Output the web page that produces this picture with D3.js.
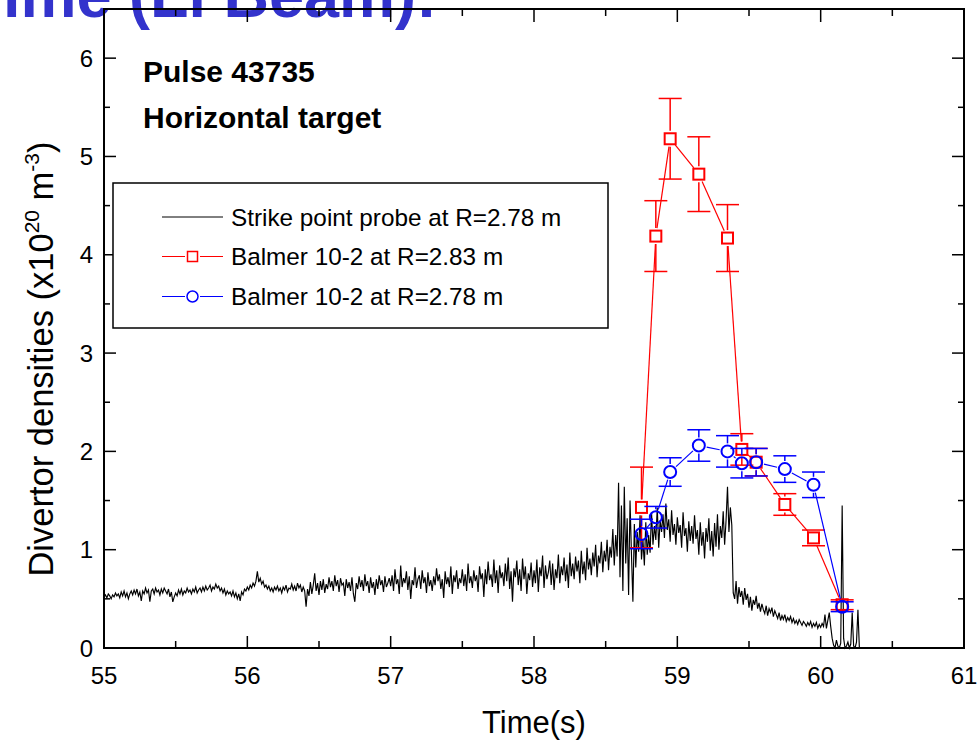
<!DOCTYPE html>
<html>
<head>
<meta charset="utf-8">
<script src="https://cdn.jsdelivr.net/npm/d3@7"></script>
<style>
  body { margin: 0; background: #fff; }
  text { font-family: "Liberation Sans", Arial, sans-serif; }
</style>
</head>
<body>
<svg id="viz"></svg>
<script>
var width = 977;
var height = 744;

// strike point probe, one sample every 0.01 s from 55.00 s
var probeStart = 55.0;
var probeStep = 0.01;
var probeValues = [
  0.52,0.54,0.51,0.55,0.53,0.50,0.54,0.52,0.56,0.53,
  0.55,0.51,0.57,0.53,0.58,0.52,0.56,0.50,0.55,0.58,
  0.54,0.59,0.55,0.60,0.53,0.57,0.48,0.58,0.55,0.61,
  0.56,0.59,0.47,0.58,0.60,0.55,0.61,0.57,0.59,0.54,
  0.60,0.56,0.61,0.58,0.55,0.60,0.52,0.57,0.47,0.52,
  0.56,0.53,0.59,0.55,0.60,0.54,0.58,0.56,0.61,0.57,
  0.59,0.55,0.60,0.57,0.62,0.56,0.59,0.61,0.57,0.62,
  0.58,0.63,0.59,0.61,0.64,0.58,0.62,0.60,0.65,0.61,
  0.63,0.58,0.61,0.56,0.60,0.54,0.58,0.55,0.57,0.53,
  0.58,0.52,0.56,0.50,0.55,0.48,0.57,0.54,0.60,0.58,
  0.62,0.59,0.64,0.61,0.66,0.63,0.68,0.78,0.67,0.71,
  0.65,0.68,0.62,0.64,0.60,0.63,0.58,0.61,0.57,0.62,
  0.59,0.63,0.58,0.61,0.56,0.62,0.59,0.64,0.57,0.61,
  0.60,0.65,0.59,0.63,0.58,0.66,0.61,0.64,0.57,0.62,
  0.58,0.42,0.60,0.53,0.67,0.55,0.64,0.76,0.58,0.66,
  0.54,0.68,0.59,0.70,0.56,0.65,0.60,0.72,0.62,0.68,
  0.58,0.74,0.63,0.69,0.57,0.71,0.64,0.66,0.53,0.70,
  0.61,0.67,0.58,0.72,0.55,0.47,0.66,0.60,0.73,0.62,
  0.69,0.58,0.75,0.63,0.68,0.56,0.72,0.61,0.67,0.54,
  0.70,0.60,0.74,0.64,0.69,0.57,0.73,0.62,0.66,0.71,
  0.63,0.74,0.58,0.80,0.65,0.70,0.55,0.84,0.62,0.71,
  0.66,0.78,0.59,0.73,0.50,0.69,0.64,0.82,0.61,0.70,
  0.74,0.60,0.79,0.66,0.72,0.56,0.77,0.63,0.69,0.58,
  0.73,0.64,0.81,0.68,0.75,0.60,0.70,0.51,0.78,0.65,
  0.72,0.62,0.83,0.55,0.74,0.67,0.79,0.60,0.71,0.66,
  0.80,0.63,0.75,0.58,0.86,0.66,0.73,0.61,0.79,0.68,
  0.74,0.57,0.83,0.70,0.76,0.52,0.80,0.65,0.88,0.69,
  0.75,0.62,0.90,0.66,0.79,0.56,0.84,0.71,0.77,0.63,
  0.86,0.68,0.92,0.60,0.78,0.47,0.81,0.72,0.89,0.64,
  0.80,0.58,0.91,0.70,0.83,0.55,0.76,0.69,0.87,0.62,
  0.79,0.66,0.90,0.57,0.82,0.73,0.94,0.61,0.84,0.70,
  0.77,0.89,0.64,0.86,0.59,0.80,0.71,0.95,0.66,0.83,
  0.74,0.92,0.68,0.85,0.61,0.97,0.73,0.86,0.70,0.93,
  0.78,0.89,0.66,0.99,0.75,0.88,0.69,1.02,0.80,0.91,
  0.74,0.97,0.83,1.05,0.72,0.94,0.86,1.08,0.77,0.99,
  0.88,1.10,0.79,1.03,0.92,1.21,0.84,1.15,0.93,1.68,
  0.72,1.45,0.58,1.64,0.86,1.32,0.54,1.50,0.95,0.47,
  1.26,0.82,1.18,0.98,1.35,0.90,1.10,0.84,1.28,0.95,
  1.15,0.97,1.38,1.05,1.24,1.10,1.43,1.02,1.30,1.18,
  1.36,1.12,1.47,1.20,1.31,1.08,1.40,1.15,1.26,1.05,
  1.33,1.17,1.25,1.02,1.38,1.14,1.22,0.98,1.29,1.09,
  1.24,1.06,1.35,1.11,1.20,0.95,1.28,1.04,1.18,0.91,
  1.22,1.08,1.32,0.99,1.19,0.93,1.27,1.03,1.36,1.00,
  1.24,1.12,1.39,1.05,1.30,1.64,1.18,1.43,1.25,0.56,
  0.50,0.68,0.45,0.62,0.52,0.58,0.44,0.61,0.49,0.55,
  0.41,0.52,0.38,0.49,0.44,0.53,0.40,0.46,0.37,0.45,
  0.39,0.35,0.43,0.33,0.40,0.36,0.41,0.32,0.38,0.34,
  0.30,0.36,0.28,0.33,0.29,0.34,0.27,0.31,0.28,0.32,
  0.26,0.30,0.25,0.28,0.24,0.29,0.26,0.23,0.27,0.25,
  0.22,0.26,0.23,0.27,0.21,0.25,0.22,0.26,0.20,0.24,
  0.21,0.25,0.22,0.34,0.20,0.28,0.36,0.22,0.10,0.03,
  0.00,0.08,0.02,0.00,0.05,1.45,0.10,0.00,0.02,0.06,
  0.00,0.04,0.36,0.02,0.00,0.06,0.39,0.00
];

// Balmer 10-2 densities
var balmerTimes = [58.75, 58.85, 58.95, 59.15, 59.35, 59.45, 59.55, 59.75, 59.95, 60.15];
var balmer283 = [1.43, 4.19, 5.18, 4.82, 4.17, 2.02, 1.89, 1.46, 1.12, 0.44];
var balmer283Err = [0.41, 0.36, 0.41, 0.38, 0.34, 0.16, 0.14, 0.11, 0.08, 0.05];
var balmer278 = [1.16, 1.33, 1.79, 2.06, 2.00, 1.88, 1.89, 1.82, 1.66, 0.42];
var balmer278Err = [0.15, 0.11, 0.145, 0.16, 0.16, 0.15, 0.14, 0.135, 0.13, 0.05];

var xTicks = [55, 56, 57, 58, 59, 60, 61];
var yTicks = [0, 1, 2, 3, 4, 5, 6];
var legendLabels = ["Strike point probe at R=2.78 m", "Balmer 10-2 at R=2.83 m", "Balmer 10-2 at R=2.78 m"];

var svg = d3.select("#viz")
    .attr("width", width)
    .attr("height", height);

var x = d3.scaleLinear().domain([55, 61]).range([104, 964]);
var y = d3.scaleLinear().domain([0, 6.5]).range([648, 9]);

// title remnant at the top (cut off by the slide)
svg.append("text")
    .attr("x", 437)
    .attr("y", 17)
    .attr("text-anchor", "end")
    .attr("font-size", 63)
    .attr("font-weight", "bold")
    .attr("fill", "#3333CC")
    .text("Time (Li Beam):");

var plot = svg.append("g");

// probe trace
var probe = probeValues.map(function (v, i) {
    return [probeStart + i * probeStep, v];
});
plot.append("path")
    .datum(probe)
    .attr("fill", "none")
    .attr("stroke", "#000")
    .attr("stroke-width", 1.15)
    .attr("d", d3.line()
        .x(function (d) { return x(d[0]); })
        .y(function (d) { return y(d[1]); }));

// series with gapped lines around markers
function drawSeries(vals, errs, color, shape) {
    var g = plot.append("g");
    var pts = balmerTimes.map(function (t, i) {
        return { px: x(t), py: y(vals[i]), v: vals[i], e: errs[i] };
    });
    var gap = 8;
    for (var i = 0; i < pts.length - 1; i++) {
        var a = pts[i], b = pts[i + 1];
        var dx = b.px - a.px, dy = b.py - a.py;
        var len = Math.sqrt(dx * dx + dy * dy);
        if (len <= 2 * gap) continue;
        g.append("line")
            .attr("x1", a.px + dx / len * gap)
            .attr("y1", a.py + dy / len * gap)
            .attr("x2", b.px - dx / len * gap)
            .attr("y2", b.py - dy / len * gap)
            .attr("stroke", color)
            .attr("stroke-width", 1.2);
    }
    pts.forEach(function (p) {
        var top = y(p.v + p.e), bot = y(p.v - p.e);
        if (top < p.py - gap) {
            g.append("line").attr("x1", p.px).attr("x2", p.px)
                .attr("y1", top).attr("y2", p.py - gap)
                .attr("stroke", color).attr("stroke-width", 1.5);
        }
        if (bot > p.py + gap) {
            g.append("line").attr("x1", p.px).attr("x2", p.px)
                .attr("y1", p.py + gap).attr("y2", bot)
                .attr("stroke", color).attr("stroke-width", 1.5);
        }
        [top, bot].forEach(function (cy) {
            g.append("line").attr("x1", p.px - 11.5).attr("x2", p.px + 11.5)
                .attr("y1", cy).attr("y2", cy)
                .attr("stroke", color).attr("stroke-width", 1.5);
        });
        if (shape == "square") {
            g.append("rect")
                .attr("x", p.px - 5.5).attr("y", p.py - 5.5)
                .attr("width", 11).attr("height", 11)
                .attr("fill", "none").attr("stroke", color).attr("stroke-width", 2);
        } else {
            g.append("circle")
                .attr("cx", p.px).attr("cy", p.py).attr("r", 6)
                .attr("fill", "none").attr("stroke", color).attr("stroke-width", 2);
        }
    });
}
drawSeries(balmer283, balmer283Err, "#ff0000", "square");
drawSeries(balmer278, balmer278Err, "#0000ff", "circle");

// frame and ticks
var frame = svg.append("g");
frame.append("rect")
    .attr("x", 104).attr("y", 9)
    .attr("width", 860).attr("height", 639)
    .attr("fill", "none").attr("stroke", "#000").attr("stroke-width", 2);

var xMinor = d3.range(55.5, 61, 1);
var yMinor = d3.range(0.5, 6.5, 1);

xTicks.forEach(function (t) {
    frame.append("line").attr("x1", x(t)).attr("x2", x(t)).attr("y1", 648).attr("y2", 636)
        .attr("stroke", "#000").attr("stroke-width", 1.5);
    frame.append("line").attr("x1", x(t)).attr("x2", x(t)).attr("y1", 9).attr("y2", 22)
        .attr("stroke", "#000").attr("stroke-width", 1.5);
    frame.append("text").attr("x", x(t)).attr("y", 684)
        .attr("text-anchor", "middle").attr("font-size", 24).text(t);
});
xMinor.forEach(function (t) {
    frame.append("line").attr("x1", x(t)).attr("x2", x(t)).attr("y1", 648).attr("y2", 641)
        .attr("stroke", "#000").attr("stroke-width", 1.5);
    frame.append("line").attr("x1", x(t)).attr("x2", x(t)).attr("y1", 9).attr("y2", 16)
        .attr("stroke", "#000").attr("stroke-width", 1.5);
});
yTicks.forEach(function (v) {
    frame.append("line").attr("x1", 104).attr("x2", 116).attr("y1", y(v)).attr("y2", y(v))
        .attr("stroke", "#000").attr("stroke-width", 1.5);
    frame.append("line").attr("x1", 964).attr("x2", 952).attr("y1", y(v)).attr("y2", y(v))
        .attr("stroke", "#000").attr("stroke-width", 1.5);
    frame.append("text").attr("x", 93).attr("y", y(v) + 8.5)
        .attr("text-anchor", "end").attr("font-size", 24).text(v);
});
yMinor.forEach(function (v) {
    frame.append("line").attr("x1", 104).attr("x2", 110).attr("y1", y(v)).attr("y2", y(v))
        .attr("stroke", "#000").attr("stroke-width", 1.5);
    frame.append("line").attr("x1", 964).attr("x2", 958).attr("y1", y(v)).attr("y2", y(v))
        .attr("stroke", "#000").attr("stroke-width", 1.5);
});

// axis titles
svg.append("text")
    .attr("x", 534).attr("y", 733)
    .attr("text-anchor", "middle").attr("font-size", 31)
    .text("Time(s)");

var yTitle = svg.append("text")
    .attr("transform", "translate(53,359) rotate(-90)")
    .attr("text-anchor", "middle").attr("font-size", 34.5);
yTitle.append("tspan").text("Divertor densities (x10");
yTitle.append("tspan").attr("font-size", 21).attr("dy", -14).text("20");
yTitle.append("tspan").attr("dy", 14).text(" m");
yTitle.append("tspan").attr("font-size", 21).attr("dy", -14).text("-3");
yTitle.append("tspan").attr("dy", 14).text(")");

// annotations
svg.append("text").attr("x", 143).attr("y", 82)
    .attr("font-size", 30).attr("font-weight", "bold")
    .text("Pulse 43735");
svg.append("text").attr("x", 143).attr("y", 128)
    .attr("font-size", 30).attr("font-weight", "bold")
    .text("Horizontal target");

// legend
var legend = svg.append("g");
legend.append("rect")
    .attr("x", 113).attr("y", 183)
    .attr("width", 495).attr("height", 145)
    .attr("fill", "#fff").attr("stroke", "#000").attr("stroke-width", 1.5);

var rowY = [217, 256.5, 296.5];
var rowColor = ["#000", "#ff0000", "#0000ff"];
legendLabels.forEach(function (lab, i) {
    var ry = rowY[i];
    if (i == 0) {
        legend.append("line").attr("x1", 162).attr("x2", 223).attr("y1", ry).attr("y2", ry)
            .attr("stroke", "#000").attr("stroke-width", 1);
    } else {
        legend.append("line").attr("x1", 162).attr("x2", 185).attr("y1", ry).attr("y2", ry)
            .attr("stroke", rowColor[i]).attr("stroke-width", 1);
        legend.append("line").attr("x1", 200).attr("x2", 223).attr("y1", ry).attr("y2", ry)
            .attr("stroke", rowColor[i]).attr("stroke-width", 1);
        if (i == 1) {
            legend.append("rect").attr("x", 187.5).attr("y", ry - 5)
                .attr("width", 10).attr("height", 10)
                .attr("fill", "none").attr("stroke", rowColor[i]).attr("stroke-width", 1.5);
        } else {
            legend.append("circle").attr("cx", 192.5).attr("cy", ry).attr("r", 5.5)
                .attr("fill", "none").attr("stroke", rowColor[i]).attr("stroke-width", 1.5);
        }
    }
    legend.append("text").attr("x", 231).attr("y", ry + 8.5)
        .attr("font-size", 24.3).text(lab);
});
</script>
</body>
</html>
